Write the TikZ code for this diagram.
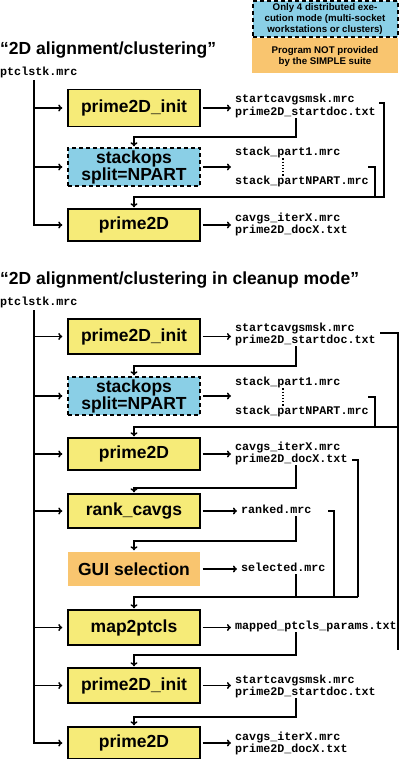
\documentclass[tikz,border=0pt]{standalone}
\usepackage{fontspec}
\setmainfont{Liberation Sans}
\setmonofont{Liberation Mono}
\usetikzlibrary{arrows.meta}
\definecolor{boxyellow}{HTML}{F6EB78}
\definecolor{boxblue}{HTML}{8ACFE6}
\definecolor{boxorange}{HTML}{F9C56F}
\begin{document}
\begin{tikzpicture}[x=1pt,y=-1pt,
  prog/.style={draw=black,line width=1.4pt,fill=boxyellow,minimum width=132pt,minimum height=35pt,inner sep=0pt,
    font=\fontsize{17.5}{18}\selectfont\bfseries,align=center},
  distbox/.style={prog,fill=boxblue,dash pattern=on 4pt off 3pt},
  extbox/.style={prog,draw=none,fill=boxorange},
  fname/.style={anchor=west,inner sep=0pt,text height=8pt,text depth=2.5pt,
    font=\fontsize{11.7}{12}\selectfont\ttfamily\bfseries},
  ttl/.style={anchor=west,inner sep=0pt,font=\fontsize{17.5}{18}\selectfont\bfseries},
  legtext/.style={align=center,inner sep=0pt,font=\fontsize{9.7}{11}\selectfont\bfseries},
  ln/.style={line width=1.5pt},
  arr/.style={ln,-{To[length=4pt,width=7pt]},shorten >=1pt},
  branch/.style={arr,shorten >=5pt},
  outarr/.style={arr,shorten <=2pt,shorten >=4pt}]
\useasboundingbox (0,0) rectangle (400,759);

% legend
\node[draw=black,line width=2pt,dash pattern=on 4pt off 3pt,fill=boxblue,minimum width=145pt,minimum height=36pt,inner sep=0pt] (legA) at (325,19) {};
\node[legtext] at (legA) {Only 4 distributed exe-\\cution mode (multi-socket\\workstations or clusters)};
\node[fill=boxorange,minimum width=146pt,minimum height=35pt,inner sep=0pt] (legB) at (325,56) {};
\node[legtext] at (legB) {Program NOT provided\\by the SIMPLE suite};

% column / row coordinates
\coordinate (xA) at (296,0);
\coordinate (xT) at (34,0);

% ---------------- section 1 ----------------
\node[ttl] (t1) at (0,50) {“2D alignment/clustering”};
\node[fname] (in1) at (0,73) {ptclstk.mrc};
\node[prog,minimum height=37pt] (a1) at (134,108) {prime2D\_init};
\node[distbox,minimum height=38pt] (a2) at (134,167) {stackops\\[-1pt]split=NPART};
\node[prog,minimum height=32pt] (a3) at (134,225) {prime2D};

\node[fname] (f1a) at (235,100) {startcavgsmsk.mrc};
\node[fname] (f1b) at (235,113) {prime2D\_startdoc.txt};
\node[fname] (f2a) at (235,153) {stack\_part1.mrc};
\node[fname] (f2b) at (235,182) {stack\_partNPART.mrc};
\node[fname] (f3a) at (235,219) {cavgs\_iterX.mrc};
\node[fname] (f3b) at (235,231) {prime2D\_docX.txt};

\coordinate (tr1) at (34,80);
\draw[arr,shorten >=5pt] (tr1) |- (a3.west);
\draw[branch] (tr1 |- a1) -- (a1.west);
\draw[branch] (tr1 |- a2) -- (a2.west);
\draw[outarr] (a1.east) -- (a1.east -| f1a.west);
\draw[outarr] (a2.east) -- (a2.east -| f2a.west);
\draw[outarr] (a3.east) -- (a3.east -| f3a.west);

\coordinate (r1) at (0,137);
\coordinate (r2) at (0,197);
\draw[arr] (f1b.south -| xA) |- (r1 -| a2.north) -- (a2.north);
\coordinate (b1s) at (379,103);
\coordinate (b1c) at (384,103);
\draw[arr] (b1s) -- (b1c) |- (r2 -| a3.north) -- (a3.north);
\coordinate (b2s) at (368,167);
\coordinate (b2c) at (375,167);
\draw[ln] (b2s) -- (b2c) -- (b2c |- r2);
\coordinate (xD) at (283,0);
\draw[line width=1.2pt,dotted] (f2a.south -| xD) -- (f2b.north -| xD);

% ---------------- section 2 ----------------
\node[ttl] (t2) at (0,280) {“2D alignment/clustering in cleanup mode”};
\node[fname] (in2) at (0,303) {ptclstk.mrc};
\node[prog] (b1) at (134,336.5) {prime2D\_init};
\node[distbox,minimum height=38pt] (b2) at (134,396) {stackops\\[-1pt]split=NPART};
\node[prog,minimum height=32pt] (b3) at (134,454) {prime2D};
\node[prog,minimum height=34pt] (b4) at (134,511) {rank\_cavgs};
\node[extbox,minimum height=34pt] (b5) at (134,569) {GUI selection};
\node[prog] (b6) at (134,627.5) {map2ptcls};
\node[prog] (b7) at (134,685.5) {prime2D\_init};
\node[prog,minimum height=32pt] (b8) at (134,743) {prime2D};

\node[fname] (g1a) at (235,329) {startcavgsmsk.mrc};
\node[fname] (g1b) at (235,341) {prime2D\_startdoc.txt};
\node[fname] (g2a) at (235,383) {stack\_part1.mrc};
\node[fname] (g2b) at (235,412) {stack\_partNPART.mrc};
\node[fname] (g3a) at (235,448) {cavgs\_iterX.mrc};
\node[fname] (g3b) at (235,460) {prime2D\_docX.txt};
\node[fname] (g4) at (241,511) {ranked.mrc};
\node[fname] (g5) at (241,569) {selected.mrc};
\node[fname] (g6) at (235,627) {mapped\_ptcls\_params.txt};
\node[fname] (g7a) at (235,681) {startcavgsmsk.mrc};
\node[fname] (g7b) at (235,693) {prime2D\_startdoc.txt};
\node[fname] (g8a) at (235,738) {cavgs\_iterX.mrc};
\node[fname] (g8b) at (235,750) {prime2D\_docX.txt};

\coordinate (tr2) at (34,310);
\draw[arr,shorten >=5pt] (tr2) |- (b8.west);
\foreach \n in {b1,b2,b3,b4,b6,b7}{\draw[branch] (tr2 |- \n) -- (\n.west);}
\draw[outarr] (b1.east) -- (b1.east -| g1a.west);
\draw[outarr] (b2.east) -- (b2.east -| g2a.west);
\draw[outarr] (b3.east) -- (b3.east -| g3a.west);
\draw[outarr] (b4.east) -- (b4.east -| g4.west);
\draw[outarr] (b5.east) -- (b5.east -| g5.west);
\draw[outarr] (b6.east) -- (b6.east -| g6.west);
\draw[outarr] (b7.east) -- (b7.east -| g7a.west);
\draw[outarr] (b8.east) -- (b8.east -| g8a.west);

\draw[line width=1.2pt,dotted] (g2a.south -| xD) -- (g2b.north -| xD);

\coordinate (s1) at (0,366);
\coordinate (s2) at (0,427);
\coordinate (s3) at (0,488);
\coordinate (s4) at (0,541);
\coordinate (s5) at (0,597);
\coordinate (s6) at (0,655);
\coordinate (s7) at (0,717);

\draw[arr] (g1b.south -| xA) |- (s1 -| b2.north) -- (b2.north);
\coordinate (c1s) at (380,333);
\coordinate (c1c) at (398,333);
\coordinate (c1e) at (398,650);
\draw[ln] (c1s) -- (c1c) -- (c1e);
\coordinate (c2s) at (368,397);
\coordinate (c2c) at (375,397);
\draw[ln] (c2s) -- (c2c) -- (c2c |- s2);
\draw[arr] (c1c |- s2) -- (s2 -| b3.north) -- (b3.north);

\draw[arr] (g3b.south -| xA) |- (s3 -| b4.north) -- (b4.north);
\coordinate (c3s) at (352,460);
\coordinate (c3c) at (358,460);
\draw[ln] (c3s) -- (c3c) -- (c3c |- s5);
\coordinate (c4s) at (328,511);
\coordinate (c4c) at (334,511);
\draw[ln] (c4s) -- (c4c) -- (c4c |- s5);
\draw[arr] (g4.south -| xA) |- (s4 -| b5.north) -- (b5.north);
\draw[ln] (g5.south -| xA) -- (xA |- s5);
\draw[arr] (c3c |- s5) -- (s5 -| b6.north) -- (b6.north);
\draw[arr] (g6.south -| xA) |- (s6 -| b7.north) -- (b7.north);
\draw[arr] (g7b.south -| xA) |- (s7 -| b8.north) -- (b8.north);
\end{tikzpicture}
\end{document}
